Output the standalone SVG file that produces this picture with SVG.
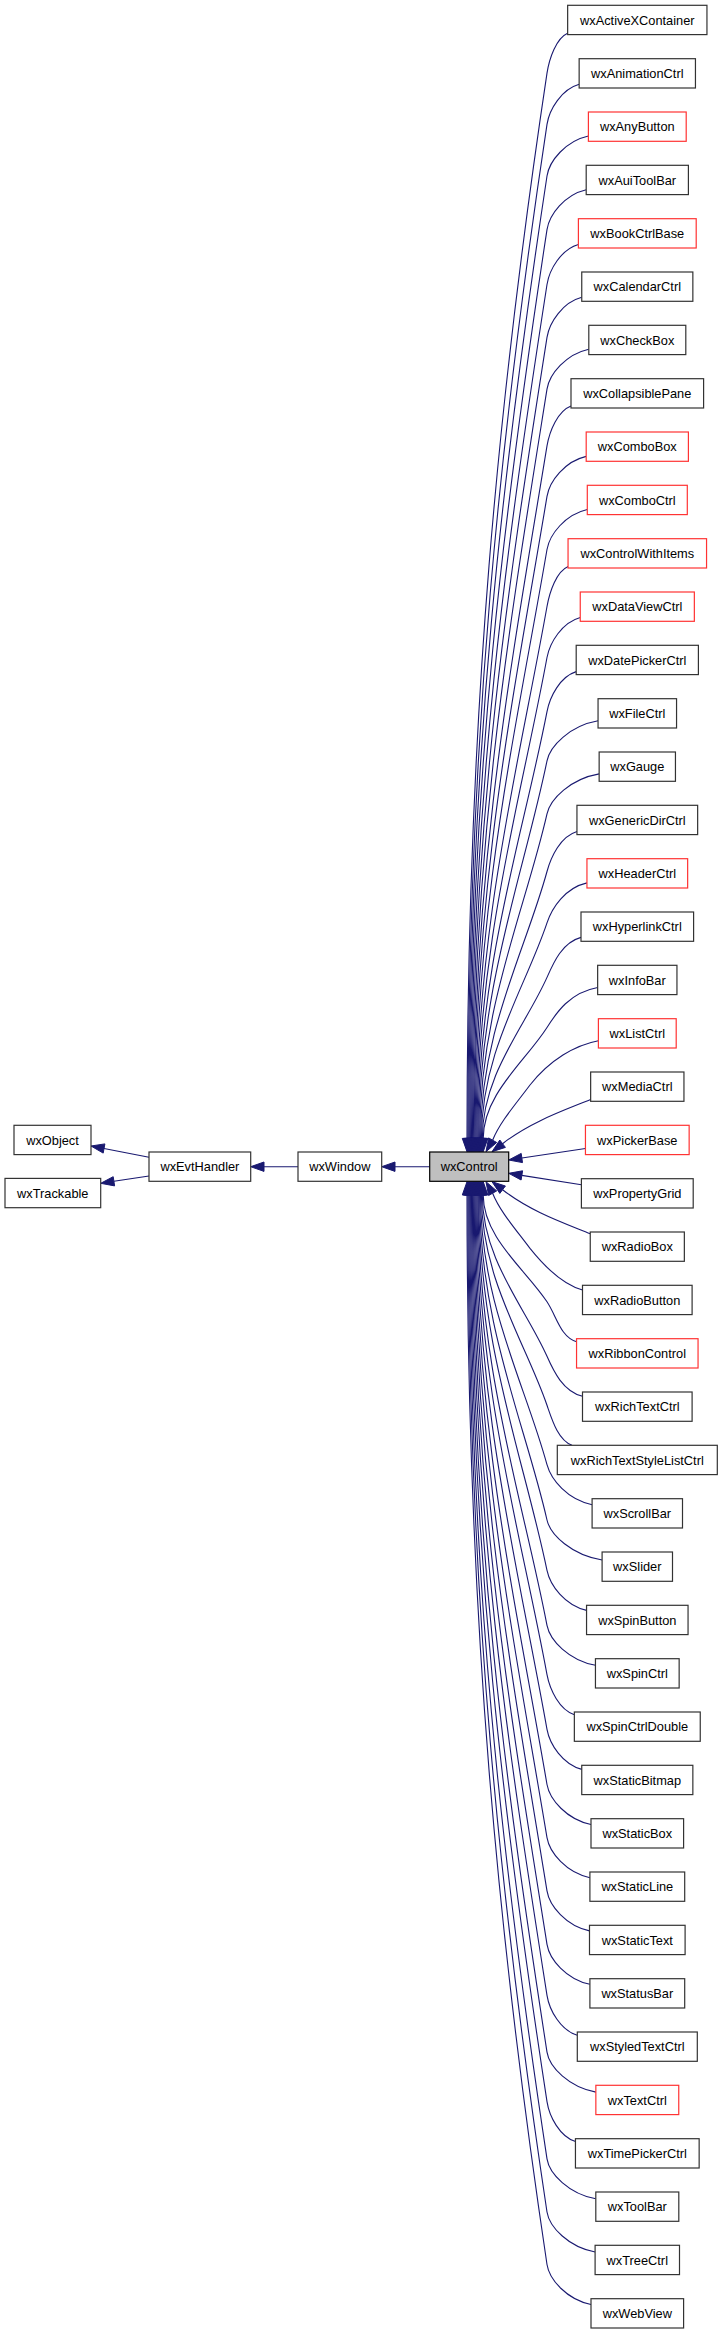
<svg xmlns="http://www.w3.org/2000/svg" width="723" height="2333" viewBox="0 0 723 2333">
<style>
.n rect{fill:#fff;stroke:#333;stroke-width:1.2}
.r rect{fill:#fff;stroke:#f33;stroke-width:1.2}
.c rect{fill:#bfbfbf;stroke:#000;stroke-width:1.2}
text{font-family:"Liberation Sans",Arial,sans-serif;font-size:12.8px;fill:#000;text-anchor:middle}
.e{fill:none;stroke:#191970;stroke-width:1.1}
.a{fill:#191970;stroke:#191970;stroke-width:1}
</style>
<rect width="723" height="2333" fill="#fff"/>
<g id="edges">
<path class="e" d="M429.7,1166.7 L395,1166.7"/><polygon class="a" points="395,1162 381.7,1166.7 395,1171.4"/>
<path class="e" d="M298,1166.7 L264,1166.7"/><polygon class="a" points="264,1162 250.7,1166.7 264,1171.4"/>
<path class="e" d="M149,1157.3 L104,1148.5"/><polygon class="a" points="104.9,1143.9 91,1146 103.2,1153.1"/>
<path class="e" d="M149,1176 L113.9,1181.3"/><polygon class="a" points="114.6,1185.9 100.7,1183.3 113.2,1176.7"/>
<path class="e" d="M567.6,33.2 C556.3,38.2 549.3,58.2 547,73.2 C499,392.8 467,712.3 467,1138.4"/>
<path class="e" d="M579.2,84.3 C561.5,89.3 549.3,109.3 547,124.3 C501.1,428.5 467.9,732.8 467.9,1138.4"/>
<path class="e" d="M588.4,136 C565.6,141 549.3,161 547,176 C503.2,464.7 468.8,753.4 468.8,1138.4"/>
<path class="e" d="M586.2,189.7 C564.6,194.7 549.3,214.7 547,229.7 C505.3,502.3 469.7,774.9 469.7,1138.4"/>
<path class="e" d="M578.4,244.5 C561.1,249.5 549.3,269.5 547,284.5 C507.3,540.7 470.6,796.8 470.6,1138.4"/>
<path class="e" d="M581.8,297.3 C562.7,302.3 549.4,322.3 547,337.3 C509.2,577.6 471.5,818 471.5,1138.4"/>
<path class="e" d="M588.8,349.2 C565.8,354.2 549.4,374.2 547,389.2 C511.2,614 472.4,838.7 472.4,1138.4"/>
<path class="e" d="M571,405.9 C557.8,410.9 549.5,430.9 547,445.9 C513.1,653.7 473.3,861.4 473.3,1138.4"/>
<path class="e" d="M586.2,456.4 C564.6,461.4 549.5,481.4 547,496.4 C515,689 474.2,881.6 474.2,1138.4"/>
<path class="e" d="M587.3,509.5 C565.1,514.5 549.6,534.5 547,549.5 C516.8,726.2 475.1,902.8 475.1,1138.4"/>
<path class="e" d="M568.1,566.5 C556.5,571.5 549.7,591.5 547,606.5 C518.6,766.1 476,925.6 476,1138.4"/>
<path class="e" d="M580.3,617.5 C562,622.5 549.8,642.5 547,657.5 C520.4,801.8 476.9,946 476.9,1138.4"/>
<path class="e" d="M576.2,671.6 C560.1,676.6 549.9,696.6 547,711.6 C522.1,839.6 477.8,967.7 477.8,1138.4"/>
<path class="e" d="M598.1,720.8 C570,725.8 550.1,745.8 547,760.8 C523.8,874.1 478.7,987.4 478.7,1138.4"/>
<path class="e" d="M599.2,773.9 C570.5,778.9 550.4,798.9 547,813.9 C524.8,911.3 479.6,1008.6 479.6,1138.4"/>
<path class="e" d="M577,831.5 C560.5,836.5 551.1,856.5 547,871.5 C525.1,951.6 480.5,1031.6 480.5,1138.4"/>
<path class="e" d="M587,882.9 C565,887.9 552,907.9 547,922.9 C525.4,987.6 481.4,1052.2 481.4,1138.4"/>
<path class="e" d="M581,937.4 C562.3,942.4 553.6,962.4 547,977.4 C525.6,1025.7 482.3,1074 482.3,1138.4"/>
<path class="e" d="M597.7,987.5 C569.8,992.5 556.5,1012.5 547,1027.5 C525.9,1060.8 483.2,1094 483.2,1138.4"/>
<polygon class="a" points="462.3,1138.4 467,1151.7 471.7,1138.4"/>
<polygon class="a" points="463.2,1138.4 467.9,1151.7 472.6,1138.4"/>
<polygon class="a" points="464.1,1138.4 468.8,1151.7 473.5,1138.4"/>
<polygon class="a" points="465,1138.4 469.7,1151.7 474.4,1138.4"/>
<polygon class="a" points="465.9,1138.4 470.6,1151.7 475.3,1138.4"/>
<polygon class="a" points="466.8,1138.4 471.5,1151.7 476.2,1138.4"/>
<polygon class="a" points="467.7,1138.4 472.4,1151.7 477.1,1138.4"/>
<polygon class="a" points="468.6,1138.4 473.3,1151.7 478,1138.4"/>
<polygon class="a" points="469.5,1138.4 474.2,1151.7 478.9,1138.4"/>
<polygon class="a" points="470.4,1138.4 475.1,1151.7 479.8,1138.4"/>
<polygon class="a" points="471.3,1138.4 476,1151.7 480.7,1138.4"/>
<polygon class="a" points="472.2,1138.4 476.9,1151.7 481.6,1138.4"/>
<polygon class="a" points="473.1,1138.4 477.8,1151.7 482.5,1138.4"/>
<polygon class="a" points="474,1138.4 478.7,1151.7 483.4,1138.4"/>
<polygon class="a" points="474.9,1138.4 479.6,1151.7 484.3,1138.4"/>
<polygon class="a" points="475.8,1138.4 480.5,1151.7 485.2,1138.4"/>
<polygon class="a" points="476.7,1138.4 481.4,1151.7 486.1,1138.4"/>
<polygon class="a" points="477.6,1138.4 482.3,1151.7 487,1138.4"/>
<polygon class="a" points="478.5,1138.4 483.2,1151.7 487.9,1138.4"/>
<path class="e" d="M598.4,1040.7 C575,1045 550,1060 530,1085 C515,1105 500,1122 492.6,1140.2"/><polygon class="a" points="496.7,1142.5 486,1151.7 488.6,1137.9"/>
<path class="e" d="M590.6,1099.5 C565,1110 530,1122 502.6,1143.7"/><polygon class="a" points="505.4,1147.4 492,1151.7 499.8,1140"/>
<path class="e" d="M585.5,1148.5 L521.9,1158"/><polygon class="a" points="522.5,1162.6 508.7,1160 521.2,1153.4"/>
<path class="e" d="M581.4,1184.8 L521.8,1175.4"/><polygon class="a" points="522.6,1170.8 508.7,1173.3 521.1,1180"/>
<path class="e" d="M590.3,1233.8 C565,1223.4 530,1211.4 502.6,1189.7"/><polygon class="a" points="505.4,1186 492,1181.7 499.8,1193.4"/>
<path class="e" d="M582.5,1290 C568,1286 550,1273.4 530,1248.4 C515,1228.4 500,1211.4 492.6,1193.2"/><polygon class="a" points="496.7,1190.9 486,1181.7 488.6,1195.5"/>
<path class="e" d="M576.6,1341.8 C560.3,1336.8 556.9,1316.8 547,1301.8 C525.9,1269.8 483.2,1237.7 483.2,1195"/>
<path class="e" d="M582.5,1396.3 C563,1391.3 553.6,1371.3 547,1356.3 C525.6,1307.9 482.3,1259.5 482.3,1195"/>
<path class="e" d="M572,1445.3 C558.2,1440.3 552.2,1420.3 547,1405.3 C525.4,1342.2 481.4,1279.1 481.4,1195"/>
<path class="e" d="M592.1,1504.7 C567.3,1499.7 551.1,1479.7 547,1464.7 C525.1,1383.8 480.5,1302.9 480.5,1195"/>
<path class="e" d="M602.1,1560 C571.8,1555 550.4,1535 547,1520 C524.8,1422.5 479.6,1325 479.6,1195"/>
<path class="e" d="M586.6,1610.4 C564.8,1605.4 550.1,1585.4 547,1570.4 C523.8,1457.8 478.7,1345.2 478.7,1195"/>
<path class="e" d="M595.5,1665.3 C568.8,1660.3 549.9,1640.3 547,1625.3 C522.1,1496.2 477.8,1367.1 477.8,1195"/>
<path class="e" d="M574.4,1714.7 C559.3,1709.7 549.8,1689.7 547,1674.7 C520.4,1530.8 476.9,1386.9 476.9,1195"/>
<path class="e" d="M581.8,1769.4 C562.7,1764.4 549.7,1744.4 547,1729.4 C518.6,1569.1 476,1408.8 476,1195"/>
<path class="e" d="M591,1824.5 C566.8,1819.5 549.6,1799.5 547,1784.5 C516.8,1607.6 475.1,1430.8 475.1,1195"/>
<path class="e" d="M589.9,1877.7 C566.3,1872.7 549.5,1852.7 547,1837.7 C515,1644.9 474.2,1452.1 474.2,1195"/>
<path class="e" d="M589.5,1930.9 C566.1,1925.9 549.4,1905.9 547,1890.9 C513.1,1682.1 473.3,1473.4 473.3,1195"/>
<path class="e" d="M589.9,1984.3 C566.3,1979.3 549.4,1959.3 547,1944.3 C511.2,1719.5 472.4,1494.7 472.4,1195"/>
<path class="e" d="M577.3,2035.3 C560.6,2030.3 549.4,2010.3 547,1995.3 C509.2,1755.2 471.5,1515.1 471.5,1195"/>
<path class="e" d="M595.9,2092.1 C569,2087.1 549.3,2067.1 547,2052.1 C507.3,1795 470.6,1537.8 470.6,1195"/>
<path class="e" d="M575.5,2141.6 C559.8,2136.6 549.3,2116.6 547,2101.6 C505.3,1829.6 469.7,1557.6 469.7,1195"/>
<path class="e" d="M595.8,2198.8 C569,2193.8 549.3,2173.8 547,2158.8 C503.2,1869.7 468.8,1580.5 468.8,1195"/>
<path class="e" d="M595.1,2252 C568.6,2247 549.3,2227 547,2212 C501.1,1906.9 467.9,1601.8 467.9,1195"/>
<path class="e" d="M591,2304.5 C566.8,2299.5 549.2,2279.5 547,2264.5 C499,1943.6 467,1622.8 467,1195"/>
<polygon class="a" points="462.3,1195 467,1181.7 471.7,1195"/>
<polygon class="a" points="463.2,1195 467.9,1181.7 472.6,1195"/>
<polygon class="a" points="464.1,1195 468.8,1181.7 473.5,1195"/>
<polygon class="a" points="465,1195 469.7,1181.7 474.4,1195"/>
<polygon class="a" points="465.9,1195 470.6,1181.7 475.3,1195"/>
<polygon class="a" points="466.8,1195 471.5,1181.7 476.2,1195"/>
<polygon class="a" points="467.7,1195 472.4,1181.7 477.1,1195"/>
<polygon class="a" points="468.6,1195 473.3,1181.7 478,1195"/>
<polygon class="a" points="469.5,1195 474.2,1181.7 478.9,1195"/>
<polygon class="a" points="470.4,1195 475.1,1181.7 479.8,1195"/>
<polygon class="a" points="471.3,1195 476,1181.7 480.7,1195"/>
<polygon class="a" points="472.2,1195 476.9,1181.7 481.6,1195"/>
<polygon class="a" points="473.1,1195 477.8,1181.7 482.5,1195"/>
<polygon class="a" points="474,1195 478.7,1181.7 483.4,1195"/>
<polygon class="a" points="474.9,1195 479.6,1181.7 484.3,1195"/>
<polygon class="a" points="475.8,1195 480.5,1181.7 485.2,1195"/>
<polygon class="a" points="476.7,1195 481.4,1181.7 486.1,1195"/>
<polygon class="a" points="477.6,1195 482.3,1181.7 487,1195"/>
<polygon class="a" points="478.5,1195 483.2,1181.7 487.9,1195"/>
</g>
<g id="wxObject" class="n"><rect x="14" y="1125.3" width="77" height="29.3"/><text x="52.5" y="1144.5">wxObject</text></g>
<g id="wxTrackable" class="n"><rect x="5" y="1178.4" width="95.7" height="29.3"/><text x="52.8" y="1197.6">wxTrackable</text></g>
<g id="wxEvtHandler" class="n"><rect x="149" y="1152" width="101.7" height="29.3"/><text x="199.9" y="1171.2">wxEvtHandler</text></g>
<g id="wxWindow" class="n"><rect x="298" y="1152" width="83.7" height="29.3"/><text x="339.8" y="1171.2">wxWindow</text></g>
<g id="wxControl" class="c"><rect x="429.7" y="1152" width="79" height="29.3"/><text x="469.2" y="1171.2">wxControl</text></g>
<g id="wxActiveXContainer" class="n"><rect x="567.65" y="5.3" width="139.3" height="29.3"/><text x="637.3" y="24.5">wxActiveXContainer</text></g>
<g id="wxAnimationCtrl" class="n"><rect x="579.15" y="58.7" width="116.3" height="29.3"/><text x="637.3" y="77.9">wxAnimationCtrl</text></g>
<g id="wxAnyButton" class="r"><rect x="588.4" y="112" width="97.8" height="29.3"/><text x="637.3" y="131.2">wxAnyButton</text></g>
<g id="wxAuiToolBar" class="n"><rect x="586.2" y="165.3" width="102.2" height="29.3"/><text x="637.3" y="184.5">wxAuiToolBar</text></g>
<g id="wxBookCtrlBase" class="r"><rect x="578.4" y="218.7" width="117.8" height="29.3"/><text x="637.3" y="237.9">wxBookCtrlBase</text></g>
<g id="wxCalendarCtrl" class="n"><rect x="581.75" y="272" width="111.1" height="29.3"/><text x="637.3" y="291.2">wxCalendarCtrl</text></g>
<g id="wxCheckBox" class="n"><rect x="588.8" y="325.3" width="97" height="29.3"/><text x="637.3" y="344.5">wxCheckBox</text></g>
<g id="wxCollapsiblePane" class="n"><rect x="571" y="378.7" width="132.6" height="29.3"/><text x="637.3" y="397.9">wxCollapsiblePane</text></g>
<g id="wxComboBox" class="r"><rect x="586.2" y="432" width="102.2" height="29.3"/><text x="637.3" y="451.2">wxComboBox</text></g>
<g id="wxComboCtrl" class="r"><rect x="587.3" y="485.3" width="100" height="29.3"/><text x="637.3" y="504.5">wxComboCtrl</text></g>
<g id="wxControlWithItems" class="r"><rect x="568.05" y="538.7" width="138.5" height="29.3"/><text x="637.3" y="557.9">wxControlWithItems</text></g>
<g id="wxDataViewCtrl" class="r"><rect x="580.25" y="592" width="114.1" height="29.3"/><text x="637.3" y="611.2">wxDataViewCtrl</text></g>
<g id="wxDatePickerCtrl" class="n"><rect x="576.2" y="645.3" width="122.2" height="29.3"/><text x="637.3" y="664.5">wxDatePickerCtrl</text></g>
<g id="wxFileCtrl" class="n"><rect x="598.05" y="698.7" width="78.5" height="29.3"/><text x="637.3" y="717.9">wxFileCtrl</text></g>
<g id="wxGauge" class="n"><rect x="599.15" y="752" width="76.3" height="29.3"/><text x="637.3" y="771.2">wxGauge</text></g>
<g id="wxGenericDirCtrl" class="n"><rect x="576.95" y="805.3" width="120.7" height="29.3"/><text x="637.3" y="824.5">wxGenericDirCtrl</text></g>
<g id="wxHeaderCtrl" class="r"><rect x="586.95" y="858.7" width="100.7" height="29.3"/><text x="637.3" y="877.9">wxHeaderCtrl</text></g>
<g id="wxHyperlinkCtrl" class="n"><rect x="581" y="912" width="112.6" height="29.3"/><text x="637.3" y="931.2">wxHyperlinkCtrl</text></g>
<g id="wxInfoBar" class="n"><rect x="597.65" y="965.3" width="79.3" height="29.3"/><text x="637.3" y="984.5">wxInfoBar</text></g>
<g id="wxListCtrl" class="r"><rect x="598.4" y="1018.7" width="77.8" height="29.3"/><text x="637.3" y="1037.9">wxListCtrl</text></g>
<g id="wxMediaCtrl" class="n"><rect x="590.65" y="1072" width="93.3" height="29.3"/><text x="637.3" y="1091.2">wxMediaCtrl</text></g>
<g id="wxPickerBase" class="r"><rect x="585.45" y="1125.3" width="103.7" height="29.3"/><text x="637.3" y="1144.5">wxPickerBase</text></g>
<g id="wxPropertyGrid" class="n"><rect x="581.4" y="1178.7" width="111.8" height="29.3"/><text x="637.3" y="1197.9">wxPropertyGrid</text></g>
<g id="wxRadioBox" class="n"><rect x="590.25" y="1232" width="94.1" height="29.3"/><text x="637.3" y="1251.2">wxRadioBox</text></g>
<g id="wxRadioButton" class="n"><rect x="582.5" y="1285.3" width="109.6" height="29.3"/><text x="637.3" y="1304.5">wxRadioButton</text></g>
<g id="wxRibbonControl" class="r"><rect x="576.55" y="1338.7" width="121.5" height="29.3"/><text x="637.3" y="1357.9">wxRibbonControl</text></g>
<g id="wxRichTextCtrl" class="n"><rect x="582.5" y="1392" width="109.6" height="29.3"/><text x="637.3" y="1411.2">wxRichTextCtrl</text></g>
<g id="wxRichTextStyleListCtrl" class="n"><rect x="557.3" y="1445.3" width="160" height="29.3"/><text x="637.3" y="1464.5">wxRichTextStyleListCtrl</text></g>
<g id="wxScrollBar" class="n"><rect x="592.1" y="1498.7" width="90.4" height="29.3"/><text x="637.3" y="1517.9">wxScrollBar</text></g>
<g id="wxSlider" class="n"><rect x="602.1" y="1552" width="70.4" height="29.3"/><text x="637.3" y="1571.2">wxSlider</text></g>
<g id="wxSpinButton" class="n"><rect x="586.55" y="1605.3" width="101.5" height="29.3"/><text x="637.3" y="1624.5">wxSpinButton</text></g>
<g id="wxSpinCtrl" class="n"><rect x="595.45" y="1658.7" width="83.7" height="29.3"/><text x="637.3" y="1677.9">wxSpinCtrl</text></g>
<g id="wxSpinCtrlDouble" class="n"><rect x="574.35" y="1712" width="125.9" height="29.3"/><text x="637.3" y="1731.2">wxSpinCtrlDouble</text></g>
<g id="wxStaticBitmap" class="n"><rect x="581.75" y="1765.3" width="111.1" height="29.3"/><text x="637.3" y="1784.5">wxStaticBitmap</text></g>
<g id="wxStaticBox" class="n"><rect x="591" y="1818.7" width="92.6" height="29.3"/><text x="637.3" y="1837.9">wxStaticBox</text></g>
<g id="wxStaticLine" class="n"><rect x="589.9" y="1872" width="94.8" height="29.3"/><text x="637.3" y="1891.2">wxStaticLine</text></g>
<g id="wxStaticText" class="n"><rect x="589.5" y="1925.3" width="95.6" height="29.3"/><text x="637.3" y="1944.5">wxStaticText</text></g>
<g id="wxStatusBar" class="n"><rect x="589.9" y="1978.7" width="94.8" height="29.3"/><text x="637.3" y="1997.9">wxStatusBar</text></g>
<g id="wxStyledTextCtrl" class="n"><rect x="577.3" y="2032" width="120" height="29.3"/><text x="637.3" y="2051.2">wxStyledTextCtrl</text></g>
<g id="wxTextCtrl" class="r"><rect x="595.85" y="2085.3" width="82.9" height="29.3"/><text x="637.3" y="2104.5">wxTextCtrl</text></g>
<g id="wxTimePickerCtrl" class="n"><rect x="575.45" y="2138.7" width="123.7" height="29.3"/><text x="637.3" y="2157.9">wxTimePickerCtrl</text></g>
<g id="wxToolBar" class="n"><rect x="595.8" y="2192" width="83" height="29.3"/><text x="637.3" y="2211.2">wxToolBar</text></g>
<g id="wxTreeCtrl" class="n"><rect x="595.1" y="2245.3" width="84.4" height="29.3"/><text x="637.3" y="2264.5">wxTreeCtrl</text></g>
<g id="wxWebView" class="n"><rect x="591" y="2298.7" width="92.6" height="29.3"/><text x="637.3" y="2317.9">wxWebView</text></g>
</svg>
